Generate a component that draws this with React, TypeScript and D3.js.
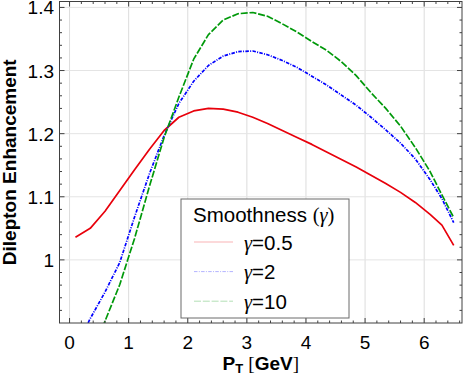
import React, { useRef, useEffect } from 'react';
import * as d3 from 'd3';

// transverse momentum grid (GeV)
const pT = [0.1, 0.35, 0.6, 0.85, 1.1, 1.35, 1.6, 1.85, 2.1, 2.35, 2.6, 2.85, 3.1, 3.35, 3.6, 3.85, 4.1, 4.35, 4.6, 4.85, 5.1, 5.35, 5.6, 5.85, 6.1, 6.3, 6.5];

// enhancement for each smoothness value
const gamma05 = [1.036, 1.05, 1.077, 1.11, 1.143, 1.175, 1.205, 1.226, 1.236, 1.24, 1.239, 1.234, 1.226, 1.216, 1.205, 1.194, 1.183, 1.171, 1.159, 1.147, 1.134, 1.121, 1.107, 1.091, 1.072, 1.055, 1.023];
const gamma2 = [0.86, 0.907, 0.949, 0.996, 1.068, 1.136, 1.197, 1.248, 1.283, 1.308, 1.323, 1.33, 1.331, 1.325, 1.316, 1.305, 1.291, 1.277, 1.261, 1.245, 1.226, 1.206, 1.185, 1.16, 1.127, 1.097, 1.059];
const gamma10 = [0.76, 0.84, 0.903, 0.961, 1.034, 1.116, 1.194, 1.258, 1.318, 1.357, 1.38, 1.39, 1.392, 1.386, 1.374, 1.361, 1.346, 1.332, 1.314, 1.292, 1.265, 1.24, 1.212, 1.178, 1.14, 1.103, 1.067];

const xTicks = [0, 1, 2, 3, 4, 5, 6];
const yTicks = [1, 1.1, 1.2, 1.3, 1.4];
const legendLabels = ['0.5', '2', '10'];

const App = () => {
  const svgRef = useRef(null);

  useEffect(() => {
    const width = 463;
    const height = 377;
    const left = 59.5, right = 462, top = 1.5, bottom = 323;

    const svg = d3.select(svgRef.current);
    svg.selectAll('*').remove();
    svg.attr('width', width).attr('height', height).style('background', '#fff');

    const x = d3.scaleLinear().domain([-0.17, 6.64]).range([left, right]);
    const y = d3.scaleLinear().domain([0.9, 1.4094]).range([bottom, top]);

    const font = '"Liberation Sans", Arial, Helvetica, sans-serif';
    const serif = '"Liberation Serif", "Times New Roman", serif';
    const frameColor = '#404040';

    // gridlines
    const grid = svg.append('g');
    grid.selectAll('.vg').data(xTicks).join('line')
      .attr('x1', d => x(d)).attr('x2', d => x(d))
      .attr('y1', top).attr('y2', bottom)
      .attr('stroke', '#dcdcdc').attr('stroke-width', 1);
    grid.selectAll('.hg').data(yTicks).join('line')
      .attr('x1', left).attr('x2', right)
      .attr('y1', d => y(d)).attr('y2', d => y(d))
      .attr('stroke', '#e4e4e4').attr('stroke-width', 1);

    // curves
    svg.append('defs').append('clipPath').attr('id', 'plotclip')
      .append('rect').attr('x', left).attr('y', top)
      .attr('width', right - left).attr('height', bottom - top);

    const series = [
      { values: gamma05, color: '#e8000b', dash: null },
      { values: gamma2, color: '#0000ff', dash: '3.5,1.3,1,1.3' },
      { values: gamma10, color: '#00990a', dash: '7,1.8' },
    ];

    const line = d3.line<number>()
      .x((d, i) => x(pT[i]))
      .y(d => y(d));

    const curves = svg.append('g').attr('clip-path', 'url(#plotclip)');
    series.forEach(s => {
      curves.append('path')
        .datum(s.values)
        .attr('fill', 'none')
        .attr('stroke', s.color)
        .attr('stroke-width', 1.7)
        .attr('stroke-linejoin', 'round')
        .attr('stroke-dasharray', s.dash)
        .attr('d', line);
    });

    // frame + ticks (inside, all four sides)
    const axes = svg.append('g').attr('stroke', frameColor).attr('stroke-width', 1);
    axes.append('rect')
      .attr('x', left).attr('y', top)
      .attr('width', right - left).attr('height', bottom - top)
      .attr('fill', 'none');

    const xMinor = d3.range(-0.2, 6.65, 0.2).map(v => +v.toFixed(2)).filter(v => v > -0.17 && v < 6.64);
    const yMinor = d3.range(0.9, 1.41, 0.02).map(v => +v.toFixed(2)).filter(v => v > 0.9 && v < 1.409);

    xMinor.forEach(v => {
      const major = xTicks.includes(v);
      const len = major ? 5 : 2.5;
      axes.append('line').attr('x1', x(v)).attr('x2', x(v)).attr('y1', bottom).attr('y2', bottom - len);
      axes.append('line').attr('x1', x(v)).attr('x2', x(v)).attr('y1', top).attr('y2', top + len);
    });
    yMinor.forEach(v => {
      const major = yTicks.some(t => Math.abs(t - v) < 1e-6);
      const len = major ? 5 : 2.5;
      axes.append('line').attr('y1', y(v)).attr('y2', y(v)).attr('x1', left).attr('x2', left + len);
      axes.append('line').attr('y1', y(v)).attr('y2', y(v)).attr('x1', right).attr('x2', right - len);
    });

    // tick labels
    svg.append('g').selectAll('text').data(xTicks).join('text')
      .attr('x', d => x(d)).attr('y', 349)
      .attr('text-anchor', 'middle')
      .attr('font-family', font).attr('font-size', 19)
      .text(d => d);

    svg.append('g').selectAll('text').data(yTicks).join('text')
      .attr('x', 54).attr('y', d => y(d) + 7)
      .attr('text-anchor', 'end')
      .attr('font-family', font).attr('font-size', 19)
      .text(d => d3.format('~g')(d));

    // axis titles
    const xLabel = svg.append('text')
      .attr('x', (left + right) / 2).attr('y', 370)
      .attr('text-anchor', 'middle')
      .attr('font-family', font).attr('font-size', 19).attr('font-weight', 'bold');
    xLabel.append('tspan').text('P');
    xLabel.append('tspan').attr('font-size', 13).attr('dy', 3).text('T');
    xLabel.append('tspan').attr('dy', -3).text(' ');
    xLabel.append('tspan').attr('font-family', serif).attr('font-weight', 'normal').text('[');
    xLabel.append('tspan').text('GeV');
    xLabel.append('tspan').attr('font-family', serif).attr('font-weight', 'normal').text(']');

    svg.append('text')
      .attr('transform', `translate(16,${(top + bottom) / 2}) rotate(-90)`)
      .attr('text-anchor', 'middle')
      .attr('font-family', font).attr('font-size', 19).attr('font-weight', 'bold')
      .text('Dilepton Enhancement');

    // legend
    const lg = svg.append('g');
    lg.append('rect')
      .attr('x', 181).attr('y', 199).attr('width', 168).attr('height', 119)
      .attr('fill', '#fff').attr('stroke', '#6a6a6a').attr('stroke-width', 1);

    const title = lg.append('text')
      .attr('x', 193).attr('y', 221.5)
      .attr('font-family', font).attr('font-size', 20.5);
    title.append('tspan').text('Smoothness ');
    title.append('tspan').attr('font-family', serif).text('(');
    title.append('tspan').attr('font-family', serif).attr('font-style', 'italic').text('γ');
    title.append('tspan').attr('font-family', serif).text(')');

    series.forEach((s, i) => {
      const yy = 242 + i * 29.6;
      lg.append('line')
        .attr('x1', 194).attr('x2', 233).attr('y1', yy).attr('y2', yy)
        .attr('stroke', s.color).attr('stroke-opacity', 0.3)
        .attr('stroke-width', 1).attr('stroke-dasharray', s.dash);
      const t = lg.append('text')
        .attr('x', 244).attr('y', yy + 7.5)
        .attr('font-family', font).attr('font-size', 20.5);
      t.append('tspan').attr('font-family', serif).attr('font-style', 'italic').text('γ');
      t.append('tspan').text('=' + legendLabels[i]);
    });
  }, []);

  return (
    <svg ref={svgRef} style={{ position: 'absolute', left: 0, top: 0, display: 'block' }}></svg>
  );
};

export default App;
